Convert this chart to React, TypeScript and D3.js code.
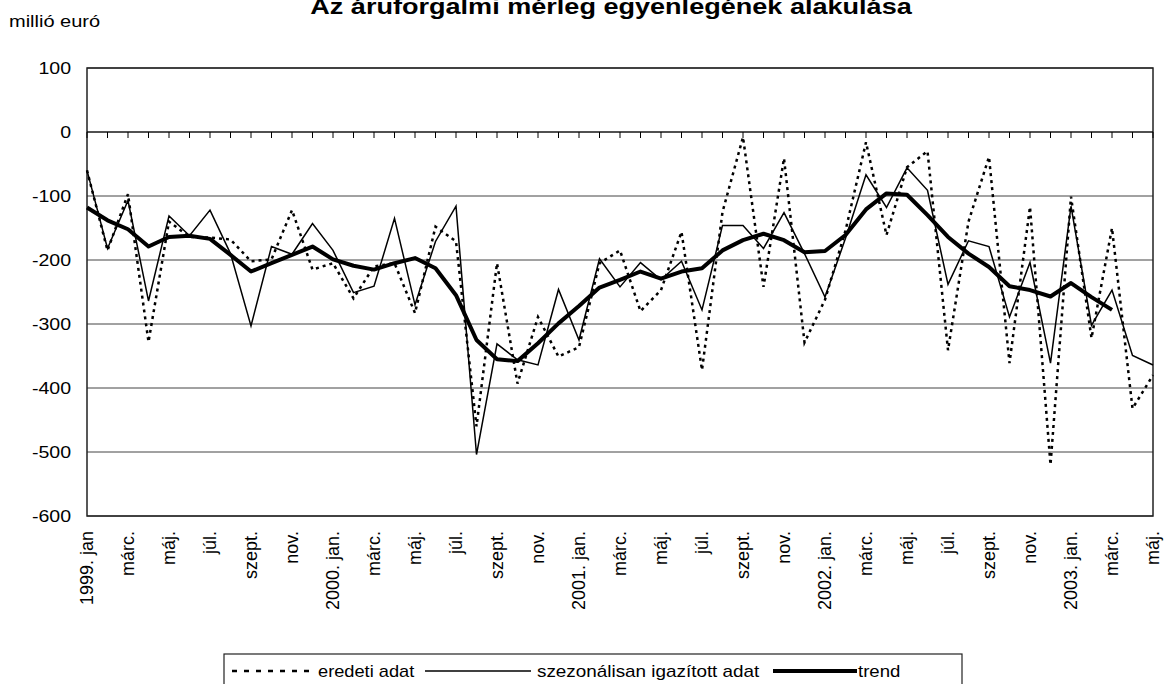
import React from 'react'
import * as d3 from 'd3'

// havi adatok, 1999. jan - 2003. máj. (millió euró)
const eredeti = [
  -60, -185, -97, -328, -140, -164, -165, -168, -202, -199, -122, -215,
  -205, -260, -210, -205, -283, -148, -171, -460, -205, -393, -289, -351,
  -336, -205, -185, -280, -247, -156, -372, -125, -8, -242, -41, -329,
  -262, -154, -16, -161, -55, -30, -341, -140, -39, -361, -117, -520,
  -101, -322, -150, -432, -380,
]

const szezonalis = [
  -60, -182, -107, -264, -131, -162, -122, -190, -303, -179, -191, -143,
  -185, -251, -241, -135, -270, -171, -116, -504, -331, -356, -364, -246,
  -325, -198, -242, -204, -231, -202, -278, -146, -146, -182, -126, -190,
  -258, -166, -67, -118, -56, -91, -238, -170, -179, -289, -204, -361,
  -116, -302, -247, -349, -364,
]

const trend = [
  -118, -138, -152, -179, -164, -162, -167, -192, -218, -205, -192, -179,
  -199, -209, -215, -205, -197, -213, -255, -325, -355, -358, -330, -299,
  -272, -243, -231, -218, -229, -218, -213, -185, -169, -159, -169, -188,
  -186, -161, -121, -96, -98, -130, -164, -190, -211, -241, -247, -257,
  -236, -258, -278,
]

// minden második hónap felirata
const tickLabels = [
  '1999. jan', 'márc.', 'máj.', 'júl.', 'szept.', 'nov.',
  '2000. jan.', 'márc.', 'máj.', 'júl.', 'szept.', 'nov.',
  '2001. jan.', 'márc.', 'máj.', 'júl.', 'szept.', 'nov.',
  '2002. jan.', 'márc.', 'máj.', 'júl.', 'szept.', 'nov.',
  '2003. jan.', 'márc.', 'máj.',
]

const yTicks = [100, 0, -100, -200, -300, -400, -500, -600]

const FONT = '"Liberation Sans", Arial, sans-serif'

export default function App() {
  const W = 1170
  const H = 684
  const left = 87
  const right = 1153
  const top = 68
  const bottom = 516

  const n = eredeti.length
  const x = d3.scaleLinear().domain([0, n - 1]).range([left, right])
  const y = d3.scaleLinear().domain([-600, 100]).range([bottom, top])

  const line = d3.line<number>()
    .x((d, i) => x(i))
    .y(d => y(d))

  const idx = d3.range(n)

  return (
    <svg width={W} height={H} style={{ position: 'absolute', left: 0, top: 0, background: '#fff' }}
      fontFamily={FONT}>
      {/* cím, felül levágva */}
      <text transform="translate(611,14) scale(1.23,1)" textAnchor="middle" fontWeight="bold" fontSize={22}>
        Az áruforgalmi mérleg egyenlegének alakulása
      </text>
      <text transform="translate(9,27) scale(1.25,1)" fontSize={16}>millió euró</text>

      {/* rácsvonalak */}
      {yTicks.map(t => (
        <line key={t} x1={left} x2={right} y1={y(t)} y2={y(t)} stroke="#444" strokeWidth={1} />
      ))}
      {yTicks.map(t => (
        <text key={'l' + t} transform={`translate(71,${y(t) + 6}) scale(1.15,1)`} textAnchor="end" fontSize={17}>
          {t}
        </text>
      ))}

      {/* keret */}
      <rect x={left} y={top} width={right - left} height={bottom - top} fill="none" stroke="#222" strokeWidth={1.5} />

      {/* x tengely a 0-nál */}
      <line x1={left} x2={right} y1={y(0)} y2={y(0)} stroke="#000" strokeWidth={1.2} />
      {idx.map(i => (
        <line key={'t' + i} x1={x(i)} x2={x(i)} y1={y(0)} y2={y(0) + 6} stroke="#000" strokeWidth={1} />
      ))}
      {tickLabels.map((lab, k) => (
        <text key={'x' + k} transform={`translate(${x(k * 2) + 6},531) rotate(-90)`} textAnchor="end" fontSize={18}>
          {lab}
        </text>
      ))}

      {/* vonalak */}
      <path d={line(eredeti) || ''} fill="none" stroke="#000" strokeWidth={2.5} strokeDasharray="3,4" />
      <path d={line(szezonalis) || ''} fill="none" stroke="#000" strokeWidth={1.5} strokeLinejoin="miter" />
      <path d={line(trend) || ''} fill="none" stroke="#000" strokeWidth={4} strokeLinejoin="round" />

      {/* jelmagyarázat */}
      <rect x={224} y={654} width={738} height={60} fill="#fff" stroke="#222" strokeWidth={1.2} />
      <line x1={232} x2={313} y1={671} y2={671} stroke="#000" strokeWidth={2.5} strokeDasharray="5,7" />
      <text transform="translate(318,677) scale(1.14,1)" fontSize={16}>eredeti adat</text>
      <line x1={425} x2={531} y1={671} y2={671} stroke="#000" strokeWidth={1.5} />
      <text transform="translate(537,677) scale(1.18,1)" fontSize={16}>szezonálisan igazított adat</text>
      <line x1={773} x2={857} y1={671} y2={671} stroke="#000" strokeWidth={4} />
      <text transform="translate(858,677) scale(1.16,1)" fontSize={16}>trend</text>
    </svg>
  )
}
